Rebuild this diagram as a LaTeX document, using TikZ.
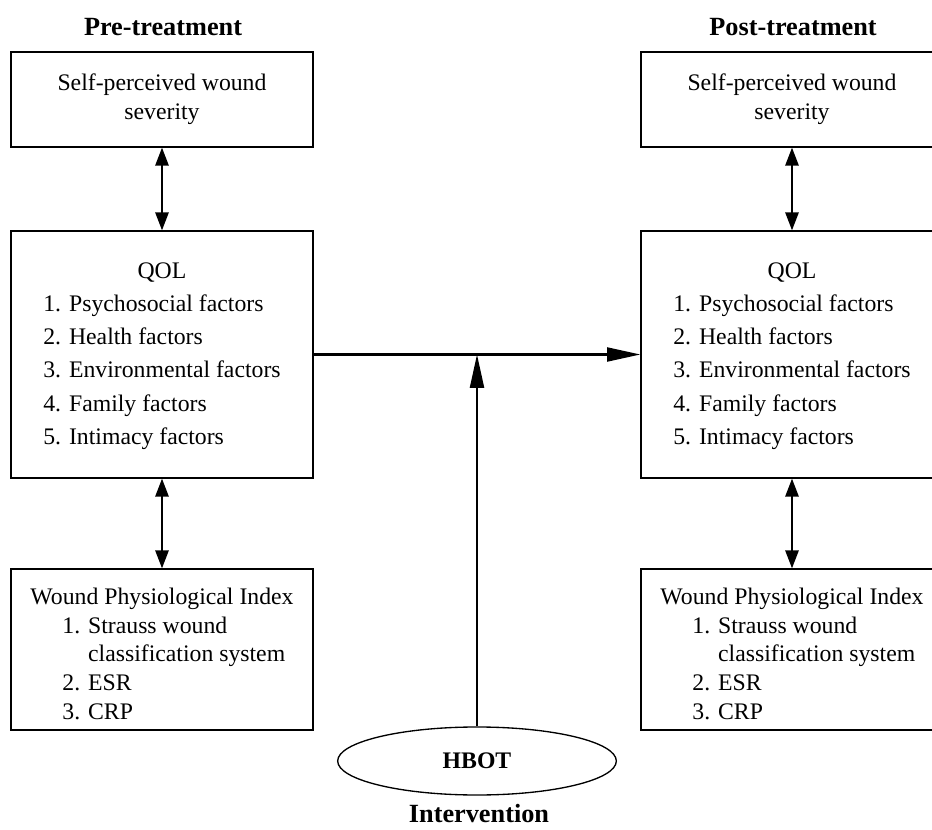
\documentclass[tikz,border=0pt]{standalone}
\usepackage{fontspec}
\setmainfont{Liberation Serif}
\usetikzlibrary{arrows.meta,shapes.geometric}

% box contents
\newcommand{\qollist}{{\renewcommand{\arraystretch}{1.16}%
  \begin{tabular}{@{}l@{}}
    \multicolumn{1}{@{}c@{}}{QOL}\\
    1. Psychosocial factors\\
    2. Health factors\\
    3. Environmental factors\\
    4. Family factors\\
    5. Intimacy factors
  \end{tabular}}}
\newcommand{\wpilist}{%
  \begin{tabular}{@{}l@{}}
    \rule{0pt}{25pt}Wound Physiological Index\\
    \hspace*{24pt}1. Strauss wound\\
    \hspace*{24pt}\hphantom{1. }classification system\\
    \hspace*{24pt}2. ESR\\
    \hspace*{24pt}3. CRP
  \end{tabular}}

\tikzset{
  box/.style={draw, line width=1pt, minimum width=226.5pt, inner sep=0pt,
    align=center, font=\fontsize{17.8}{21.5}\selectfont},
  heading/.style={font=\fontsize{19.7}{23}\selectfont\bfseries},
  dbl/.style={line width=1.4pt,
    {Triangle[length=13.5pt,width=10pt]}-{Triangle[length=13.5pt,width=10pt]}},
  into/.style={line width=1.6pt, -{Triangle[length=25pt,width=10.5pt]}}
}

\begin{document}
\begin{tikzpicture}[x=0.75pt, y=-0.75pt]
    \useasboundingbox (0,0) rectangle (932,830);
    % Titles
    \node[heading] (pretitle) at (163, 27) {Pre-treatment};
    \node[heading] (posttitle) at (793, 27) {Post-treatment};
    % Pre-treatment
    \node[box, minimum height=71.25pt] (preself) at (162, 99.5) {Self-perceived wound\\severity};
    \node[box, minimum height=185.25pt] (preqol) at (162, 354.5) {\qollist};
    \node[box, minimum height=120.75pt] (prewpi) at (162, 649.5) {\wpilist};
    \draw[dbl] (preself) -- (preqol);
    \draw[dbl] (preqol) -- (prewpi);
    % Post-treatment
    \node[box, minimum height=71.25pt] (postself) at (792, 99.5) {Self-perceived wound\\severity};
    \node[box, minimum height=185.25pt] (postqol) at (792, 354.5) {\qollist};
    \node[box, minimum height=120.75pt] (postwpi) at (792, 649.5) {\wpilist};
    \draw[dbl] (postself) -- (postqol);
    \draw[dbl] (postqol) -- (postwpi);
    % Intervention
    \draw[into] (preqol.east) -- (postqol.west);
    \node[draw, ellipse, line width=1pt, minimum width=209pt, minimum height=51pt,
      font=\fontsize{17.8}{21.5}\selectfont\bfseries] (hbot) at (477, 761) {HBOT};
    \draw[into] (hbot.north) -- (hbot.north |- preqol.east);
    \node[heading] (intervention) at (479, 814) {Intervention};
\end{tikzpicture}
\end{document}
